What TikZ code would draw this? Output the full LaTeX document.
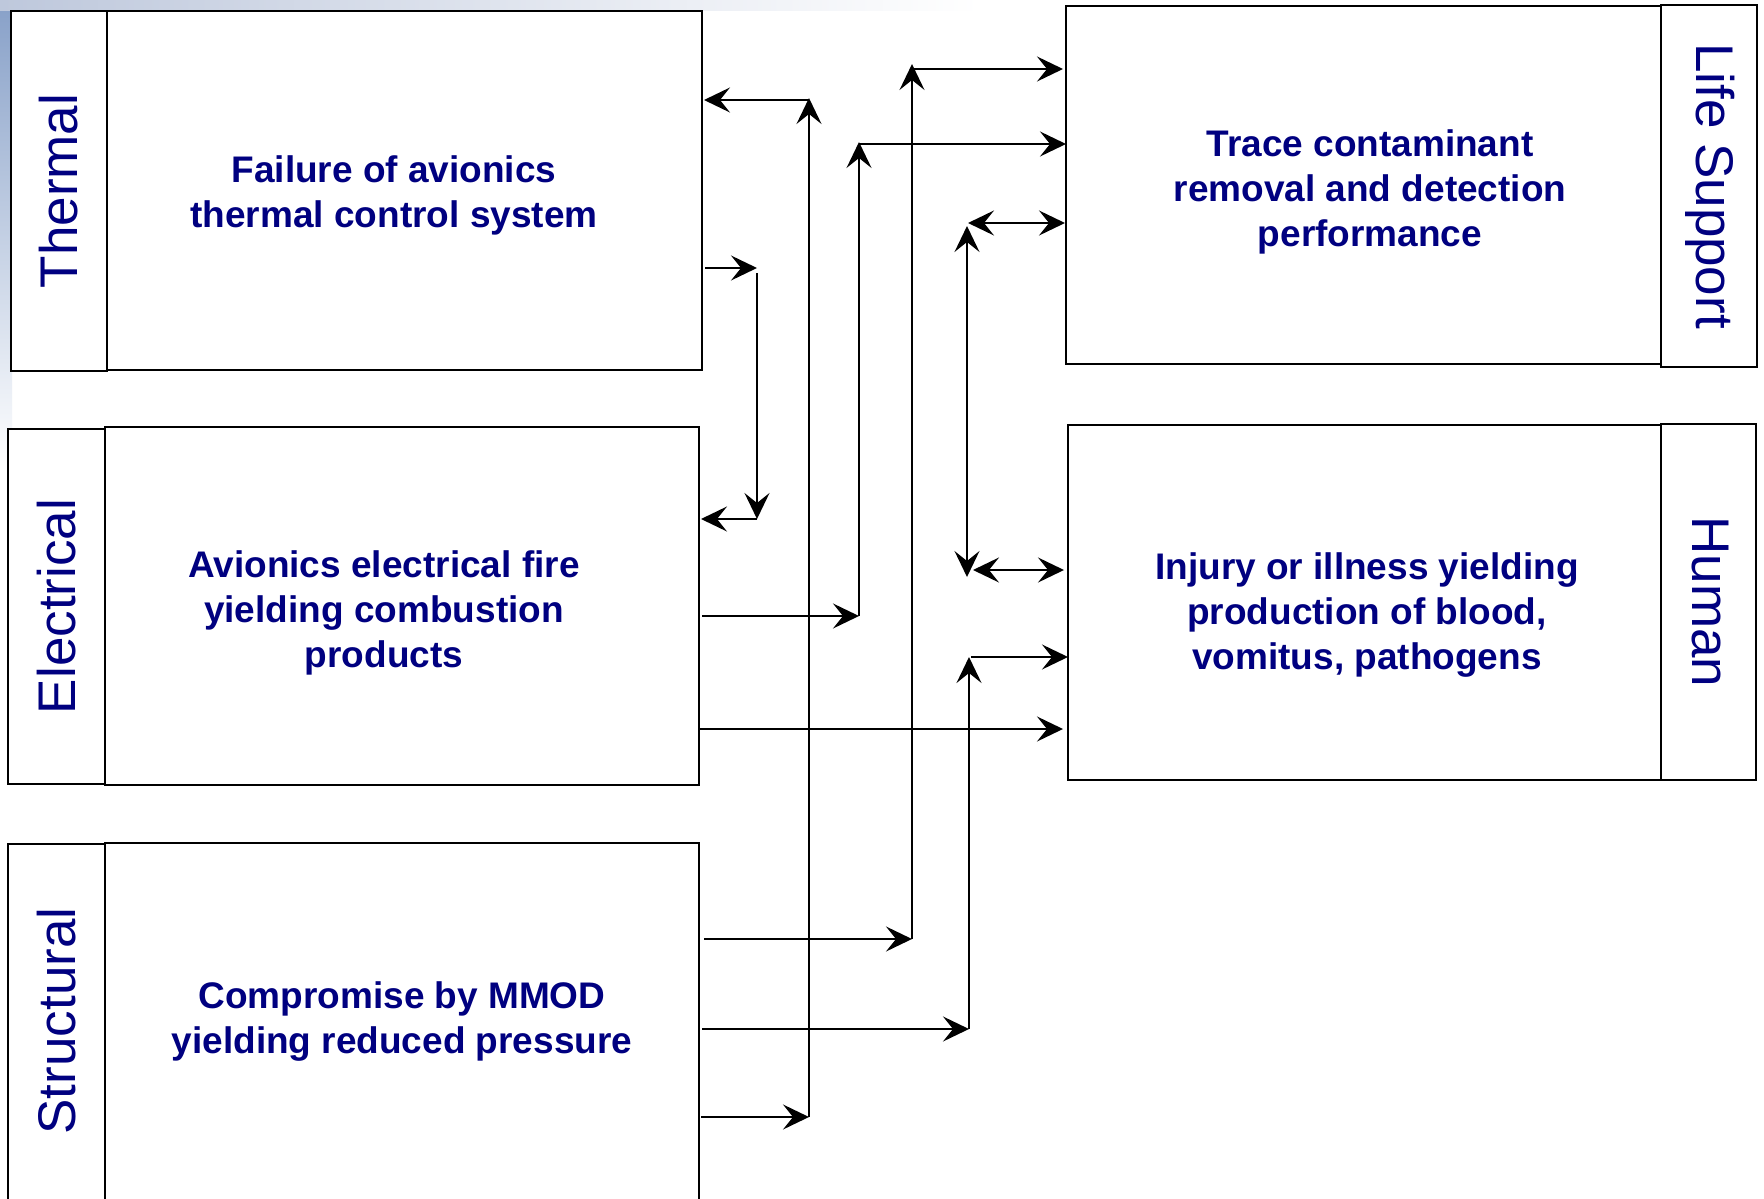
\documentclass[tikz,border=0pt]{standalone}
\usepackage{fontspec}
\setmainfont{Liberation Sans}
\usetikzlibrary{arrows.meta}
\definecolor{txtblue}{RGB}{0,0,128}
\definecolor{skyblue}{RGB}{135,160,200}
\definecolor{skygrey}{RGB}{190,200,220}
\begin{document}
\begin{tikzpicture}[x=1pt,y=-1pt,
  box/.style={draw=black, line width=2pt, fill=white, inner sep=0pt, outer sep=0pt},
  labbox/.style={draw=black, line width=2.6pt, fill=white, inner sep=0pt, outer sep=0pt},
  maintext/.style={text=txtblue, font=\bfseries\fontsize{37}{45}\selectfont, align=center, inner sep=0pt},
  sidetext/.style={text=txtblue, font=\fontsize{53}{60}\selectfont, inner sep=0pt},
  tip/.tip={Stealth[length=26pt,width=25pt,inset=10pt]},
  conn/.style={line width=2pt, -tip},
  dconn/.style={line width=2pt, tip-tip}
]
\useasboundingbox (0,0) rectangle (1764,1199);
\clip (0,0) rectangle (1764,1199);
\fill[white] (0,0) rectangle (1764,1199);
% faint sky background at the top left
\shade[top color=skyblue, bottom color=white] (0,0) rectangle (12,470);
\shade[left color=skygrey, right color=white] (0,0) rectangle (980,11);

% left column
\node[labbox, minimum width=96pt, minimum height=360pt] (thL) at (59,191) {};
\node[box, minimum width=595pt, minimum height=359pt] (thB) at (404.5,190.5) {};
\node[labbox, minimum width=97pt, minimum height=355pt] (elL) at (56.5,606.5) {};
\node[box, minimum width=594pt, minimum height=358pt] (elB) at (402,606) {};
\node[labbox, minimum width=97pt, minimum height=371pt] (stL) at (56.5,1029.5) {};
\node[box, minimum width=594pt, minimum height=372pt] (stB) at (402,1029) {};

% right column
\node[box, minimum width=595pt, minimum height=358pt] (lsB) at (1363.5,185) {};
\node[labbox, minimum width=96pt, minimum height=362pt] (lsL) at (1709,186) {};
\node[box, minimum width=593pt, minimum height=355pt] (huB) at (1364.5,602.5) {};
\node[labbox, minimum width=95pt, minimum height=356pt] (huL) at (1708.5,602) {};

% side labels
\node[sidetext, rotate=90] (thS) at (thL.center) {Thermal};
\node[sidetext, rotate=90] (elS) at (elL.center) {Electrical};
\node[sidetext, rotate=90] (stS) at (56.5,1021) {Structural};
\node[sidetext, rotate=-90] (lsS) at (1710,186) {Life Support};
\node[sidetext, rotate=-90] (huS) at (1710,602) {Human};

% box texts
\node[maintext] (thT) at (394,195) {Failure of avionics\\thermal control system};
\node[maintext] (elT) at (384,613) {Avionics electrical fire\\yielding combustion\\products};
\node[maintext] (stT) at (402,1022) {Compromise by MMOD\\yielding reduced pressure};
\node[maintext] (lsT) at (1370,192) {Trace contaminant\\removal and detection\\performance};
\node[maintext] (huT) at (1367,615) {Injury or illness yielding\\production of blood,\\vomitus, pathogens};

% junction points
\coordinate (p1a) at (757,268);
\coordinate (p1s) at (757,273);
\coordinate (p1b) at (757,519);
\coordinate (p2a) at (809,1117);
\coordinate (p2b) at (809,98);
\coordinate (p2c) at (809,100);
\coordinate (p3a) at (859,616);
\coordinate (p3b) at (859,142);
\coordinate (p3c) at (859,144);
\coordinate (p4a) at (912,939);
\coordinate (p4b) at (912,64);
\coordinate (p4c) at (912,69);
\coordinate (p5a) at (967,226);
\coordinate (p5b) at (967,577);
\coordinate (p5c) at (968,223);
\coordinate (p5d) at (973,570);
\coordinate (p6a) at (969,1029);
\coordinate (p6b) at (969,657);
\coordinate (p6c) at (971,657);
\coordinate (p7) at (0,729);

% Thermal -> Electrical
\draw[conn] ([xshift=3pt]thB.east |- p1a) -- (p1a);
\draw[conn] (p1s) -- (p1b);
\draw[conn] (p1b) -- ([xshift=2pt]elB.east |- p1b);
% Structural -> Thermal
\draw[conn] ([xshift=2pt]stB.east |- p2a) -- (p2a);
\draw[conn] (p2a) -- (p2b);
\draw[conn] (p2c) -- ([xshift=2pt]thB.east |- p2c);
% Electrical -> Life Support
\draw[conn] ([xshift=3pt]elB.east |- p3a) -- (p3a);
\draw[conn] (p3a) -- (p3b);
\draw[conn] (p3c) -- (lsB.west |- p3c);
% Structural -> Life Support
\draw[conn] ([xshift=5pt]stB.east |- p4a) -- (p4a);
\draw[conn] (p4a) -- (p4b);
\draw[conn] (p4c) -- ([xshift=-3pt]lsB.west |- p4c);
% Life Support <-> Human
\draw[dconn] (p5a) -- (p5b);
\draw[dconn] (p5c) -- ([xshift=-1pt]lsB.west |- p5c);
\draw[dconn] (p5d) -- ([xshift=-4pt]huB.west |- p5d);
% Structural -> Human
\draw[conn] ([xshift=3pt]stB.east |- p6a) -- (p6a);
\draw[conn] (p6a) -- (p6b);
\draw[conn] (p6c) -- (huB.west |- p6c);
% Electrical -> Human
\draw[conn] (elB.east |- p7) -- ([xshift=-5pt]huB.west |- p7);
\end{tikzpicture}
\end{document}
